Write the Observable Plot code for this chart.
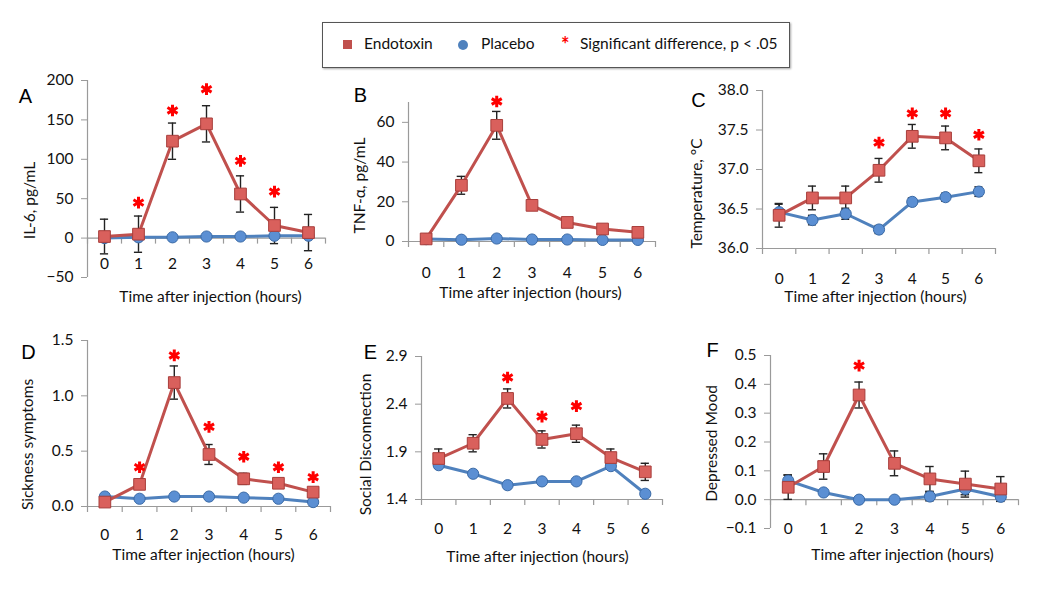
<!DOCTYPE html>
<html>
<head>
<meta charset="utf-8">
<script src="https://cdn.jsdelivr.net/npm/d3@7"></script>
<script src="https://cdn.jsdelivr.net/npm/@observablehq/plot@0.6"></script>
<style>
  html, body { margin: 0; padding: 0; background: #fff; }
  #page { position: relative; width: 1050px; height: 590px; overflow: hidden; font-family: Lato, "Open Sans", sans-serif; color: #111; }
  #page svg { position: absolute; overflow: visible; }
  #legend { position: absolute; left: 322px; top: 22px; width: 466px; height: 44px; border: 1.5px solid #555; background: #fff; box-shadow: 1px 1px 2px rgba(0,0,0,0.35); font-size: 15.5px; white-space: nowrap; }
  #legend span { position: absolute; }
</style>
</head>
<body>
<div id="page">
  <div id="legend">
    <span style="left:20px;top:17px;width:9px;height:9px;background:#c0504d;"></span>
    <span style="left:41px;top:11px;">Endotoxin</span>
    <span style="left:135px;top:17px;width:10px;height:10px;border-radius:50%;background:#4f81bd;"></span>
    <span style="left:158px;top:11px;">Placebo</span>
    <span style="left:238px;top:9px;color:#ff0000;font-weight:bold;font-size:20px;">*</span>
    <span style="left:257px;top:11px;">Significant difference, p &lt; .05</span>
  </div>
</div>
<script>
// ---------- data ----------
const hours = [0, 1, 2, 3, 4, 5, 6];

const il6Endo = [2, 5, 123, 145, 56, 16, 7];
const il6EndoErr = [22, 23, 23, 23, 23, 23, 23];
const il6Plac = [0, 1, 1, 2, 2, 3, 3];
const il6PlacErr = [0, 0, 0, 0, 0, 0, 0];
const il6SigHours = [1, 2, 3, 4, 5];
const il6StarY = [45, 162, 189, 98, 59];
const il6Ticks = [-50, 0, 50, 100, 150, 200];

const tnfEndo = [1.3, 28.3, 58.5, 18.2, 9.6, 6.3, 4.6];
const tnfEndoErr = [0.8, 4.5, 7, 1, 1, 0.8, 0.8];
const tnfPlac = [1.2, 0.9, 1.5, 1, 1, 0.8, 0.8];
const tnfPlacErr = [0, 0, 0, 0, 0, 0, 0];
const tnfSigHours = [2];
const tnfStarY = [70.5];
const tnfTicks = [0, 20, 40, 60];

const tempEndo = [36.42, 36.64, 36.64, 36.99, 37.42, 37.40, 37.11];
const tempEndoErr = [0.15, 0.15, 0.15, 0.15, 0.15, 0.15, 0.15];
const tempPlac = [36.46, 36.36, 36.44, 36.24, 36.59, 36.65, 36.72];
const tempPlacErr = [0.1, 0.06, 0.07, 0.05, 0.05, 0.05, 0.06];
const tempSigHours = [3, 4, 5, 6];
const tempStarY = [37.34, 37.71, 37.71, 37.44];
const tempTicks = [36.0, 36.5, 37.0, 37.5, 38.0];

const sickEndo = [0.04, 0.20, 1.12, 0.47, 0.25, 0.21, 0.13];
const sickEndoErr = [0.01, 0.04, 0.15, 0.09, 0.05, 0.02, 0.02];
const sickPlac = [0.09, 0.07, 0.09, 0.09, 0.08, 0.07, 0.04];
const sickPlacErr = [0, 0, 0, 0, 0, 0, 0];
const sickSigHours = [1, 2, 3, 4, 5, 6];
const sickStarY = [0.355, 1.365, 0.72, 0.45, 0.355, 0.265];
const sickTicks = [0.0, 0.5, 1.0, 1.5];

const socEndo = [1.83, 1.99, 2.46, 2.03, 2.09, 1.84, 1.69];
const socEndoErr = [0.1, 0.09, 0.1, 0.09, 0.09, 0.09, 0.09];
const socPlac = [1.76, 1.67, 1.55, 1.59, 1.59, 1.75, 1.46];
const socPlacErr = [0, 0, 0, 0, 0, 0, 0];
const socSigHours = [2, 3, 4];
const socStarY = [2.68, 2.27, 2.38];
const socTicks = [1.4, 1.9, 2.4, 2.9];

const moodEndo = [0.043, 0.115, 0.363, 0.126, 0.072, 0.054, 0.037];
const moodEndoErr = [0.042, 0.044, 0.045, 0.043, 0.043, 0.045, 0.043];
const moodPlac = [0.066, 0.025, 0, 0, 0.011, 0.037, 0.01];
const moodPlacErr = [0.02, 0, 0, 0, 0.015, 0.02, 0];
const moodSigHours = [2];
const moodStarY = [0.465];
const moodTicks = [-0.1, 0.0, 0.1, 0.2, 0.3, 0.4, 0.5];

const xTitle = "Time after injection (hours)";

const panels = [
  {letter: "A", ylabel: "IL-6, pg/mL", domain: [-50, 200], base: 0, ticks: il6Ticks, fmt: d3.format("d"),
   endo: il6Endo, endoErr: il6EndoErr, plac: il6Plac, placErr: il6PlacErr, sig: il6SigHours, starY: il6StarY},
  {letter: "B", ylabel: "TNF-α, pg/mL", domain: [0, 70], base: 0, ticks: tnfTicks, fmt: d3.format("d"),
   endo: tnfEndo, endoErr: tnfEndoErr, plac: tnfPlac, placErr: tnfPlacErr, sig: tnfSigHours, starY: tnfStarY},
  {letter: "C", ylabel: "Temperature, °C", domain: [36, 38], base: 36, ticks: tempTicks, fmt: d3.format(".1f"),
   endo: tempEndo, endoErr: tempEndoErr, plac: tempPlac, placErr: tempPlacErr, sig: tempSigHours, starY: tempStarY},
  {letter: "D", ylabel: "Sickness symptoms", domain: [0, 1.5], base: 0, ticks: sickTicks, fmt: d3.format(".1f"),
   endo: sickEndo, endoErr: sickEndoErr, plac: sickPlac, placErr: sickPlacErr, sig: sickSigHours, starY: sickStarY},
  {letter: "E", ylabel: "Social Disconnection", domain: [1.4, 2.9], base: 1.4, ticks: socTicks, fmt: d3.format(".1f"),
   endo: socEndo, endoErr: socEndoErr, plac: socPlac, placErr: socPlacErr, sig: socSigHours, starY: socStarY},
  {letter: "F", ylabel: "Depressed Mood", domain: [-0.1, 0.5], base: 0, ticks: moodTicks, fmt: d3.format(".1f"),
   endo: moodEndo, endoErr: moodEndoErr, plac: moodPlac, placErr: moodPlacErr, sig: moodSigHours, starY: moodStarY}
];

// ---------- layout (page pixels) ----------
const layout = [
  {L: 0,   T: 60,  W: 340, H: 255, fx0: 87,  fx1: 325,  fy0: 80,  fy1: 277, labelY: 263, title: [210, 297], let: [25, 96],  yl: [30, 200]},
  {L: 340, T: 60,  W: 330, H: 255, fx0: 408, fx1: 655,  fy0: 102, fy1: 241, labelY: 272, title: [530, 293], let: [360, 95], yl: [360, 185]},
  {L: 670, T: 60,  W: 380, H: 255, fx0: 762, fx1: 995,  fy0: 90,  fy1: 248, labelY: 278, title: [875, 297], let: [698, 100], yl: [697, 193]},
  {L: 0,   T: 320, W: 340, H: 270, fx0: 87,  fx1: 330,  fy0: 340, fy1: 506, labelY: 534, title: [203, 555], let: [28, 352], yl: [28, 444]},
  {L: 340, T: 320, W: 330, H: 270, fx0: 421, fx1: 662,  fy0: 356, fy1: 499, labelY: 528, title: [537, 557], let: [370, 352], yl: [366, 444]},
  {L: 670, T: 320, W: 380, H: 270, fx0: 770, fx1: 1018, fy0: 355, fy1: 528, labelY: 528, title: [902, 555], let: [712, 350], yl: [712, 443]}
];

const endoLine = "#c0504d", endoFill = "#d9605c", endoStroke = "#a83e3b";
const placLine = "#4f81bd", placFill = "#5b8fd3", placStroke = "#3a6aa6";
const axisGray = "#9a9a9a";
const capHalf = 0.12;
const fs = 15.5;

const page = document.getElementById("page");

panels.forEach((p, k) => {
  const g = layout[k];
  const endoRows = hours.map((h, i) => ({h, v: p.endo[i], e: p.endoErr[i]}));
  const placRows = hours.map((h, i) => ({h, v: p.plac[i], e: p.placErr[i]}));
  const errRows = endoRows.concat(placRows).filter(d => d.e > 0);
  const stars = p.sig.map((h, i) => ({h, v: p.starY[i]}));
  const bounds = hours.concat([hours.length]).map(h => h - 0.5);
  const at = (pt) => ({frameAnchor: "top-left", dx: pt[0] - g.fx0, dy: pt[1] - g.fy0, textAnchor: "middle", lineAnchor: "middle"});

  const chart = Plot.plot({
    width: g.W, height: g.H,
    marginLeft: g.fx0 - g.L, marginRight: g.L + g.W - g.fx1,
    marginTop: g.fy0 - g.T, marginBottom: g.T + g.H - g.fy1,
    style: {fontFamily: "Lato, 'Open Sans', sans-serif", color: "#111", background: "transparent", overflow: "visible"},
    x: {domain: [-0.5, 6.5], axis: null},
    y: {domain: p.domain, axis: null},
    marks: [
      Plot.ruleX([-0.5], {stroke: axisGray, strokeWidth: 1.2}),
      Plot.ruleY([p.base], {stroke: axisGray, strokeWidth: 1.2}),
      Plot.ruleX(bounds, {x: d => d, y1: p.base, y2: p.base, insetBottom: -6, stroke: axisGray, strokeWidth: 1.2}),
      Plot.axisY({ticks: p.ticks, tickFormat: p.fmt, tickSize: 6, tickPadding: 8, stroke: axisGray, fill: "#111", fontSize: fs, label: null}),
      Plot.axisX({ticks: hours, tickFormat: d3.format("d"), tickSize: 0, tickPadding: g.labelY - g.fy1 - 6, fill: "#111", fontSize: fs, label: null}),
      // error bars
      Plot.ruleX(errRows, {x: "h", y1: d => d.v - d.e, y2: d => d.v + d.e, stroke: "#222", strokeWidth: 1.4}),
      Plot.ruleY(errRows, {y: d => d.v + d.e, x1: d => d.h - capHalf, x2: d => d.h + capHalf, stroke: "#222", strokeWidth: 1.4}),
      Plot.ruleY(errRows, {y: d => d.v - d.e, x1: d => d.h - capHalf, x2: d => d.h + capHalf, stroke: "#222", strokeWidth: 1.4}),
      // series
      Plot.line(placRows, {x: "h", y: "v", stroke: placLine, strokeWidth: 3}),
      Plot.line(endoRows, {x: "h", y: "v", stroke: endoLine, strokeWidth: 3}),
      Plot.dot(placRows, {x: "h", y: "v", r: 5.6, fill: placFill, stroke: placStroke, strokeWidth: 1}),
      Plot.dot(endoRows, {x: "h", y: "v", symbol: "square", r: 6.6, fill: endoFill, stroke: endoStroke, strokeWidth: 1}),
      // significance
      Plot.dot(stars, {x: "h", y: "v", symbol: "asterisk", r: 5.5, stroke: "#ff0000", strokeWidth: 3}),
      // texts
      Plot.text([p.letter], {...at(g.let), fontSize: 20, fontFamily: "'Liberation Sans', Arial, sans-serif", fill: "#000"}),
      Plot.text([p.ylabel], {...at(g.yl), rotate: -90, fontSize: fs, fill: "#111"}),
      Plot.text([xTitle], {...at(g.title), fontSize: fs, fill: "#111"})
    ]
  });
  chart.style.left = g.L + "px";
  chart.style.top = g.T + "px";
  page.appendChild(chart);
});
</script>
</body>
</html>
